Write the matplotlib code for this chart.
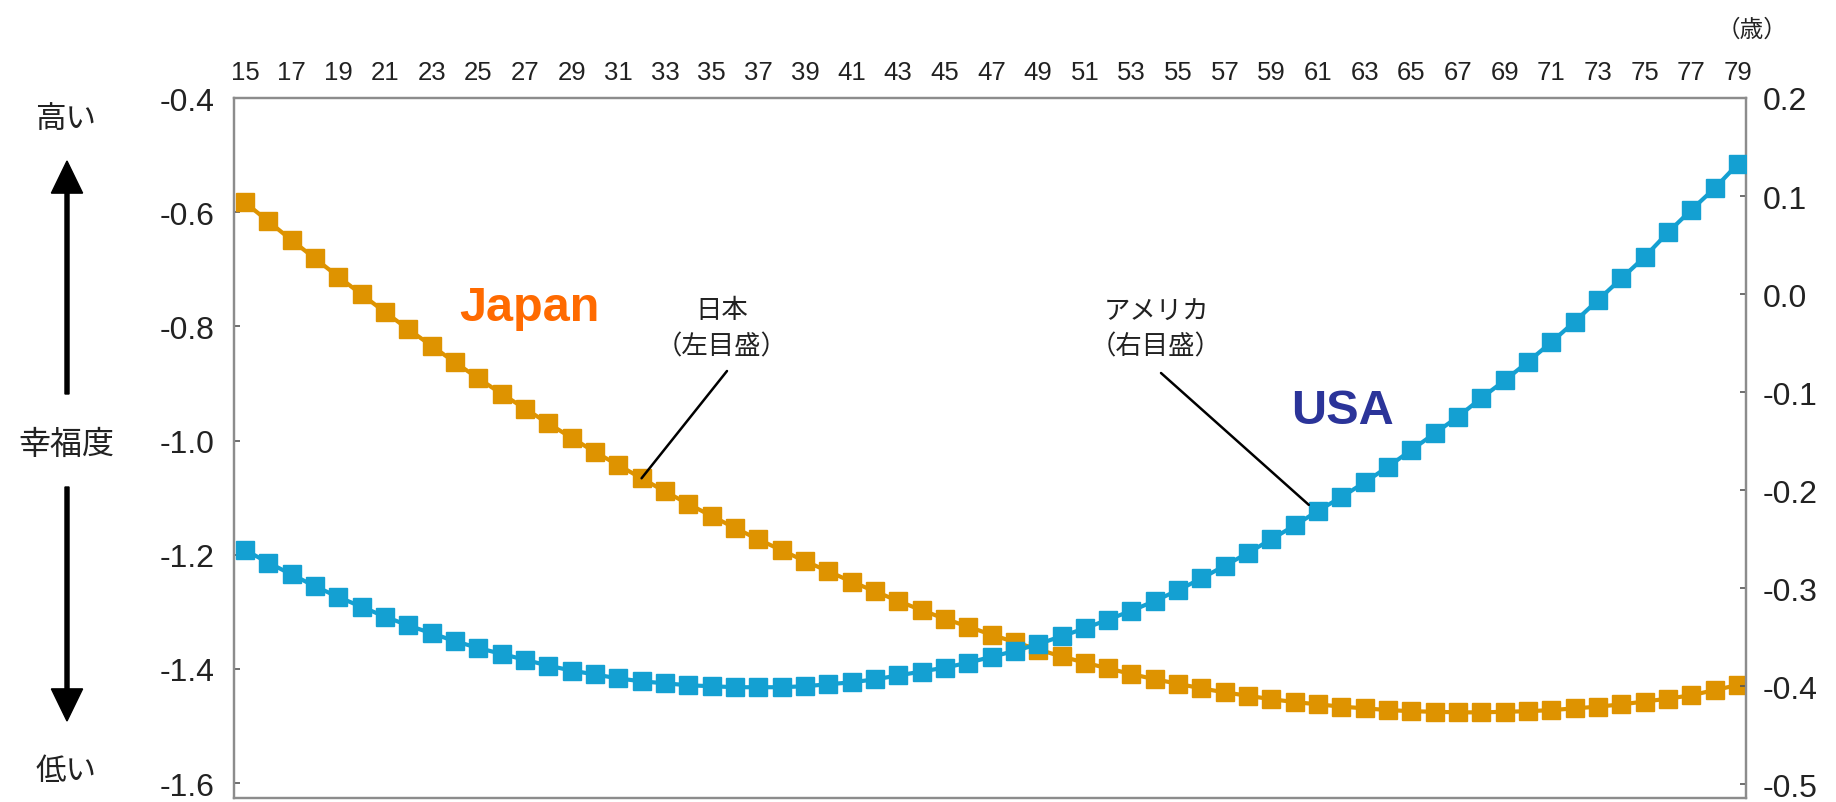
import numpy as np
import matplotlib
matplotlib.use('Agg')
import matplotlib.pyplot as plt

# ages 15..79, happiness index
ages = np.arange(15, 80)
japan = [-0.583, -0.616, -0.649, -0.681, -0.713, -0.744, -0.775, -0.805, -0.834, -0.863,
         -0.891, -0.918, -0.944, -0.970, -0.995, -1.020, -1.043, -1.066, -1.089, -1.111,
         -1.132, -1.153, -1.173, -1.192, -1.211, -1.229, -1.247, -1.264, -1.281, -1.297,
         -1.312, -1.326, -1.340, -1.353, -1.366, -1.378, -1.389, -1.399, -1.409, -1.418,
         -1.426, -1.434, -1.441, -1.447, -1.453, -1.458, -1.462, -1.466, -1.469, -1.472,
         -1.474, -1.475, -1.476, -1.476, -1.475, -1.474, -1.472, -1.469, -1.466, -1.462,
         -1.457, -1.452, -1.446, -1.437, -1.428]
usa = [-0.261, -0.274, -0.286, -0.298, -0.309, -0.319, -0.329, -0.338, -0.346, -0.354,
       -0.361, -0.367, -0.373, -0.379, -0.384, -0.388, -0.392, -0.395, -0.397, -0.399,
       -0.400, -0.401, -0.401, -0.401, -0.400, -0.398, -0.396, -0.393, -0.389, -0.385,
       -0.381, -0.376, -0.370, -0.364, -0.357, -0.349, -0.341, -0.332, -0.323, -0.313,
       -0.302, -0.290, -0.277, -0.264, -0.250, -0.236, -0.221, -0.207, -0.192, -0.176,
       -0.159, -0.142, -0.125, -0.106, -0.088, -0.069, -0.049, -0.028, -0.006, 0.016,
       0.038, 0.063, 0.086, 0.108, 0.133]
top_ticks = list(range(15, 80, 2))
left_ticks = [-1.6, -1.4, -1.2, -1.0, -0.8, -0.6, -0.4]
right_ticks = [-0.5, -0.4, -0.3, -0.2, -0.1, 0.0, 0.1, 0.2]

W, H = 1836, 803
num_font = 'Liberation Sans'
jp_font = ['Noto Sans CJK JP', 'DejaVu Sans']

def fx(x):
    return x / W

def fy(y):
    return 1 - y / H

fig = plt.figure(figsize=(W / 100, H / 100), dpi=100)
ax = fig.add_axes([fx(234), fy(799), fx(1746) - fx(234), fy(99) - fy(799)])
ax2 = ax.twinx()

jp_col = '#DE9300'
us_col = '#14A0D2'
ax.plot(ages, japan, color=jp_col, lw=3, marker='s', ms=13, mec=jp_col, zorder=3)
ax2.plot(ages, usa, color=us_col, lw=3, marker='s', ms=13, mec=us_col, zorder=3)

ax.set_xlim(14.53, 79.34)
ax.set_ylim(-1.626, -0.4)
ax2.set_ylim(-0.514, 0.2)

ax.xaxis.tick_top()
ax.set_xticks(top_ticks)
ax.set_xticklabels([str(t) for t in top_ticks], fontsize=18.5, family=num_font, color='#222222')
ax.tick_params(axis='x', length=0, pad=10)

ax.set_yticks(left_ticks)
ax.set_yticklabels(['%.1f' % t for t in left_ticks], fontsize=23, family=num_font, color='#222222')
ax.tick_params(axis='y', direction='in', length=4, width=1.2, color='#555555', pad=14)

ax2.set_yticks(right_ticks)
ax2.set_yticklabels(['%.1f' % t for t in right_ticks], fontsize=23, family=num_font, color='#222222')
ax2.tick_params(axis='y', direction='in', length=4, width=1.2, color='#555555', pad=12)

for a in (ax, ax2):
    for s in a.spines.values():
        s.set_color('#8c8c8c')
        s.set_linewidth(1.6)
ax.spines['bottom'].set_color('#9a9a9a')

# series labels
fig.text(fx(529), fy(309), 'Japan', color='#FF6A00', fontsize=35, fontweight='bold',
         family='Liberation Sans', ha='center', va='center')
fig.text(fx(1342), fy(412), 'USA', color='#2B3499', fontsize=35, fontweight='bold',
         family='Liberation Sans', ha='center', va='center')

fig.text(fx(722), fy(311), '日本', fontsize=19, family=jp_font, ha='center', va='center', color='#222222')
fig.text(fx(722), fy(347), '（左目盛）', fontsize=19, family=jp_font, ha='center', va='center', color='#222222')
fig.text(fx(1156), fy(311), 'アメリカ', fontsize=19, family=jp_font, ha='center', va='center', color='#222222')
fig.text(fx(1156), fy(347), '（右目盛）', fontsize=19, family=jp_font, ha='center', va='center', color='#222222')

ax.annotate('', xy=(32, japan[32 - 15]), xycoords='data',
            xytext=(fx(727), fy(372)), textcoords='figure fraction',
            arrowprops=dict(arrowstyle='-', color='black', lw=1.8, shrinkA=0, shrinkB=0))
ax2.annotate('', xy=(60.6, usa[61 - 15] + 0.006), xycoords='data',
             xytext=(fx(1161), fy(374)), textcoords='figure fraction',
             arrowprops=dict(arrowstyle='-', color='black', lw=1.8, shrinkA=0, shrinkB=0))

fig.text(fx(1752), fy(30), '（歳）', fontsize=17, family=jp_font, ha='center', va='center', color='#222222')

# left side: happiness direction
fig.text(fx(66), fy(120), '高い', fontsize=22, family=jp_font, ha='center', va='center', color='#222222')
fig.text(fx(66), fy(445), '幸福度', fontsize=23, family=jp_font, ha='center', va='center', color='#222222')
fig.text(fx(66), fy(772), '低い', fontsize=22, family=jp_font, ha='center', va='center', color='#222222')
fig.patches.append(matplotlib.patches.FancyArrow(
    fx(67), fy(395), 0, fy(162) - fy(395), width=0.0022, head_width=0.017,
    head_length=0.04, length_includes_head=True, color='black', transform=fig.transFigure))
fig.patches.append(matplotlib.patches.FancyArrow(
    fx(67), fy(488), 0, fy(722) - fy(488), width=0.0022, head_width=0.017,
    head_length=0.04, length_includes_head=True, color='black', transform=fig.transFigure))

fig.savefig('out.png', dpi=100)
